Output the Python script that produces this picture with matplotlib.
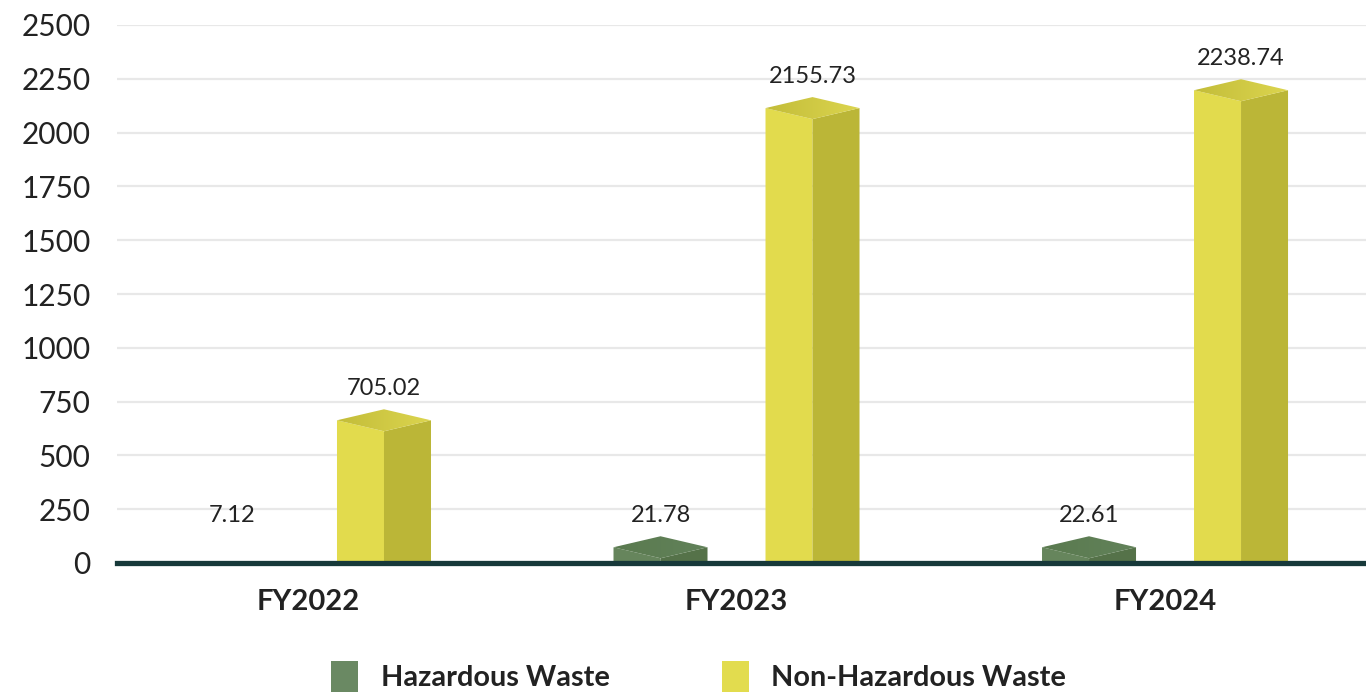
import numpy as np
import matplotlib
matplotlib.use("Agg")
import matplotlib.pyplot as plt
from matplotlib.patches import Polygon, Rectangle

plt.rcParams['font.family'] = ['Lato', 'DejaVu Sans']

# waste generated per financial year
years = ['FY2022', 'FY2023', 'FY2024']
hazardous = [7.12, 21.78, 22.61]
non_hazardous = [705.02, 2155.73, 2238.74]
y_ticks = [0, 250, 500, 750, 1000, 1250, 1500, 1750, 2000, 2250, 2500]

# colours: front face, side face, top (dark end, light end)
haz_cols = ('#66855c', '#557249', '#5a7a4f', '#62825a')
nonhaz_cols = ('#e2db4d', '#bbb637', '#c3bd39', '#dcd54f')

W, H = 1366, 693
fig = plt.figure(figsize=(W / 100, H / 100), dpi=100)
ax = fig.add_axes([117 / W, (H - 563) / H, 1 - 117 / W, (563 - 25) / H])
ax.set_xlim(-0.4457, 2.469)
ax.set_ylim(0, 2500)

px_x = 1 / 428.5          # one pixel in category units
px_y = 2500 / 538         # one pixel in data units
half_w = 47 * px_x
depth = 11 * px_y
offset = 76 * px_x
min_top = 115             # tiny values still get a visible cap


def block(x, value, cols):
    front, side, top_dark, top_light = cols
    top = max(value, min_top) + 2 * px_y
    corner = top - depth
    fr = top - 2 * depth
    if value >= 10:
        ax.add_patch(Polygon([(x - half_w, 0), (x, 0), (x, fr), (x - half_w, corner)],
                             closed=True, fc=front, ec='none', zorder=3))
        ax.add_patch(Polygon([(x, 0), (x + half_w, 0), (x + half_w, corner), (x, fr)],
                             closed=True, fc=side, ec='none', zorder=3))
        cap = Polygon([(x - half_w, corner), (x, top), (x + half_w, corner), (x, fr)],
                      closed=True, fc='none', ec='none', zorder=4)
        ax.add_patch(cap)
        grad = np.linspace(0, 1, 64).reshape(1, -1)
        cmap = matplotlib.colors.LinearSegmentedColormap.from_list('g', [top_dark, top_light])
        im = ax.imshow(grad, cmap=cmap, aspect='auto', zorder=4,
                       extent=(x - half_w, x + half_w, fr, top), interpolation='bilinear')
        im.set_clip_path(cap)
    ax.annotate(f'{value:.2f}', (x, top), xytext=(0, 15), textcoords='offset points',
                ha='center', va='center', fontsize=17, color='#222222', zorder=5)


for i in range(len(years)):
    block(i - offset, hazardous[i], haz_cols)
    block(i + offset, non_hazardous[i], nonhaz_cols)

ax.set_xlim(-0.4457, 2.469)
ax.set_ylim(0, 2500)

ax.set_yticks(y_ticks)
ax.set_yticklabels([str(t) for t in y_ticks], fontsize=21.5, color='#222222')
ax.set_xticks(range(len(years)))
ax.set_xticklabels(years, fontsize=21, fontweight='bold', color='#222222')
ax.tick_params(axis='y', length=0, pad=19)
ax.tick_params(axis='x', length=0, pad=19)
ax.grid(axis='y', color='#e8e8e8', lw=1.6, zorder=0)
ax.set_axisbelow(True)
for s in ax.spines.values():
    s.set_visible(False)
ax.axhline(0, color='#17393a', lw=3.8, zorder=6, clip_on=False)

# legend
fig.add_artist(Rectangle((331 / W, 1 - 692 / H), 27 / W, 31 / H, transform=fig.transFigure,
                         fc='#6a8963', ec='none'))
fig.text(381 / W, 1 - 678 / H, 'Hazardous Waste', fontsize=20.8, fontweight='bold',
         color='#222222', va='center', ha='left')
fig.add_artist(Rectangle((722 / W, 1 - 692 / H), 27 / W, 31 / H, transform=fig.transFigure,
                         fc='#e2dc4e', ec='none'))
fig.text(771 / W, 1 - 678 / H, 'Non-Hazardous Waste', fontsize=20.8, fontweight='bold',
         color='#222222', va='center', ha='left')

fig.savefig('out.png', dpi=100)
